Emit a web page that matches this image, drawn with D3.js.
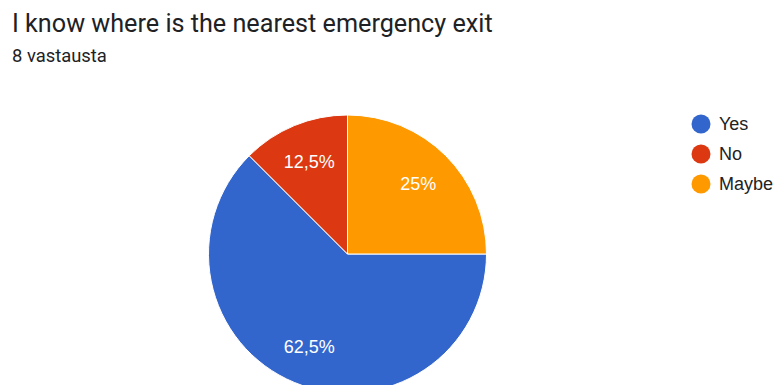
<!DOCTYPE html>
<html>
<head>
<meta charset="utf-8">
<script src="https://cdn.jsdelivr.net/npm/d3@7"></script>
<style>
  html, body { margin: 0; padding: 0; background: #fff; }
  svg { display: block; }
</style>
</head>
<body>
<svg id="chart" width="774" height="385"></svg>
<script>
// Survey answers
const categories = ["Yes", "No", "Maybe"];
const counts = [5, 1, 2];
const sliceLabels = ["62,5%", "12,5%", "25%"];
const colors = ["#3366cc", "#dc3912", "#ff9900"];

const title = "I know where is the nearest emergency exit";
const subtitle = "8 vastausta";

const svg = d3.select("#chart");
const headFont = "Roboto, 'Noto Sans', Arial, sans-serif";
const chartFont = "'Liberation Sans', Arial, sans-serif";

svg.append("text")
  .attr("x", 12).attr("y", 32)
  .attr("font-family", headFont)
  .attr("font-size", 25.2)
  .attr("fill", "#202124")
  .text(title);

svg.append("text")
  .attr("x", 12).attr("y", 62)
  .attr("font-family", headFont)
  .attr("font-size", 18.4)
  .attr("fill", "#202124")
  .text(subtitle);

// Pie, first slice starting at 3 o'clock, clockwise
const cx = 347.5, cy = 254, radius = 139;
const pie = d3.pie().sort(null)
  .startAngle(Math.PI / 2)
  .endAngle(Math.PI / 2 + 2 * Math.PI)
  .value(d => d.value);
const data = categories.map((c, i) => ({ name: c, value: counts[i], label: sliceLabels[i], color: colors[i] }));
const arcs = pie(data);
const arc = d3.arc().innerRadius(0).outerRadius(radius);
const labelArc = d3.arc().innerRadius(100).outerRadius(100);

const g = svg.append("g").attr("transform", `translate(${cx},${cy})`);
g.selectAll("path.slice")
  .data(arcs)
  .join("path")
  .attr("class", "slice")
  .attr("d", arc)
  .attr("fill", d => d.data.color)
  .attr("stroke", "#ffffff")
  .attr("stroke-width", 1);

g.selectAll("text.pct")
  .data(arcs)
  .join("text")
  .attr("class", "pct")
  .attr("transform", d => `translate(${labelArc.centroid(d)})`)
  .attr("text-anchor", "middle")
  .attr("dy", "0.35em")
  .attr("font-family", chartFont)
  .attr("font-size", 18)
  .attr("fill", "#ffffff")
  .text(d => d.data.label);

// Legend
const legend = svg.append("g").attr("transform", "translate(701,124)");
const row = legend.selectAll("g")
  .data(data)
  .join("g")
  .attr("transform", (d, i) => `translate(0,${i * 30})`);
row.append("circle")
  .attr("r", 9.5)
  .attr("fill", d => d.color);
row.append("text")
  .attr("x", 18)
  .attr("dy", "0.35em")
  .attr("font-family", chartFont)
  .attr("font-size", 18)
  .attr("fill", "#222222")
  .text(d => d.name);
</script>
</body>
</html>
